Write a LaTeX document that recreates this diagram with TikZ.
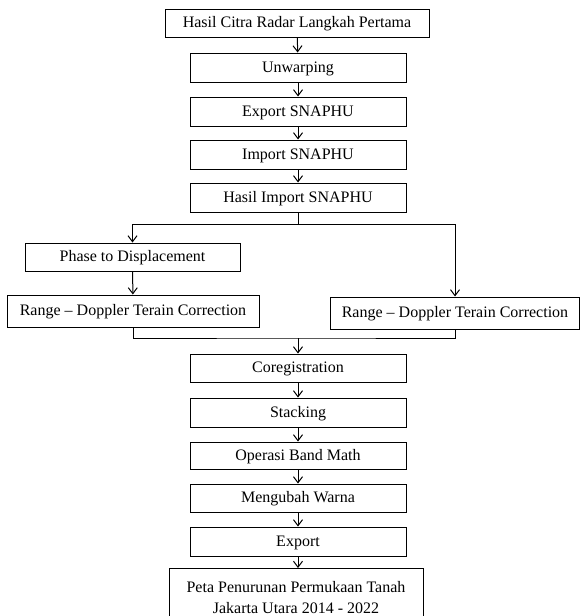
\documentclass[tikz,border=0pt]{standalone}
\usepackage{fontspec}
\setmainfont{Liberation Serif}
\usetikzlibrary{arrows.meta}
\tikzset{
  box/.style={draw=black, line width=1pt, fill=white, inner sep=0pt, minimum width=216pt, minimum height=29pt, text height=9pt, text depth=0pt, font=\fontsize{16}{21}\selectfont},
  arr/.style={-{Straight Barb[length=6pt,width=9pt,line width=1pt]}},
  ln/.style={draw=black, line width=1pt}
}
\begin{document}
\begin{tikzpicture}[x=1pt,y=-1pt]
\useasboundingbox (0,0) rectangle (580,616);
\clip (0,0) rectangle (580,616);
\fill[white] (0,0) rectangle (580,616);
\node[box, minimum width=264pt, minimum height=28pt] (b1) at (297,23) {Hasil Citra Radar Langkah Pertama};
\node[box] (b2) at (298,67.5) {Unwarping};
\node[box] (b3) at (298,111.5) {Export SNAPHU};
\node[box] (b4) at (298,154.5) {Import SNAPHU};
\node[box] (b5) at (298,197.5) {Hasil Import SNAPHU};
\node[box, minimum width=215pt, minimum height=28pt] (phase) at (132.5,257) {Phase to Displacement};
\node[box, minimum width=252pt, minimum height=32pt] (rl) at (133,311) {Range -- Doppler Terain Correction};
\node[box, minimum width=249pt, minimum height=32pt] (rr) at (455,313) {Range -- Doppler Terain Correction};
\node[box, minimum height=28pt] (cor) at (298,368) {Coregistration};
\node[box] (stack) at (298,412.5) {Stacking};
\node[box, minimum height=27pt] (band) at (298,455.5) {Operasi Band Math};
\node[box, minimum height=28pt] (warna) at (298,498) {Mengubah Warna};
\node[box] (exp) at (298,541.5) {Export};
\node[box, text height={}, text depth={}, minimum width=254pt, minimum height=58pt, align=center, anchor=north] (peta) at (296,568) {Peta Penurunan Permukaan Tanah\\Jakarta Utara 2014 - 2022};
\coordinate (split) at (298,224);
\coordinate (merge) at (298,338);
\draw[ln, arr] (b1) -- (b2);
\draw[ln, arr] (b2) -- (b3);
\draw[ln, arr] (b3) -- (b4);
\draw[ln, arr] (b4) -- (b5);
\draw[ln] (b5.south) -- (split);
\draw[ln, arr] (split) -| (phase.north);
\draw[ln, arr] (split) -| (rr.north);
\draw[ln, arr] (phase) -- (rl);
\draw[ln] (rl.south) |- (merge) -| (rr.south);
\draw[ln, arr] (merge) -- (cor.north);
\draw[ln, arr] (cor) -- (stack);
\draw[ln, arr] (stack) -- (band);
\draw[ln, arr] (band) -- (warna);
\draw[ln, arr] (warna) -- (exp);
\draw[ln, arr] (exp.south) -- (peta.north -| exp.south);
\end{tikzpicture}
\end{document}
